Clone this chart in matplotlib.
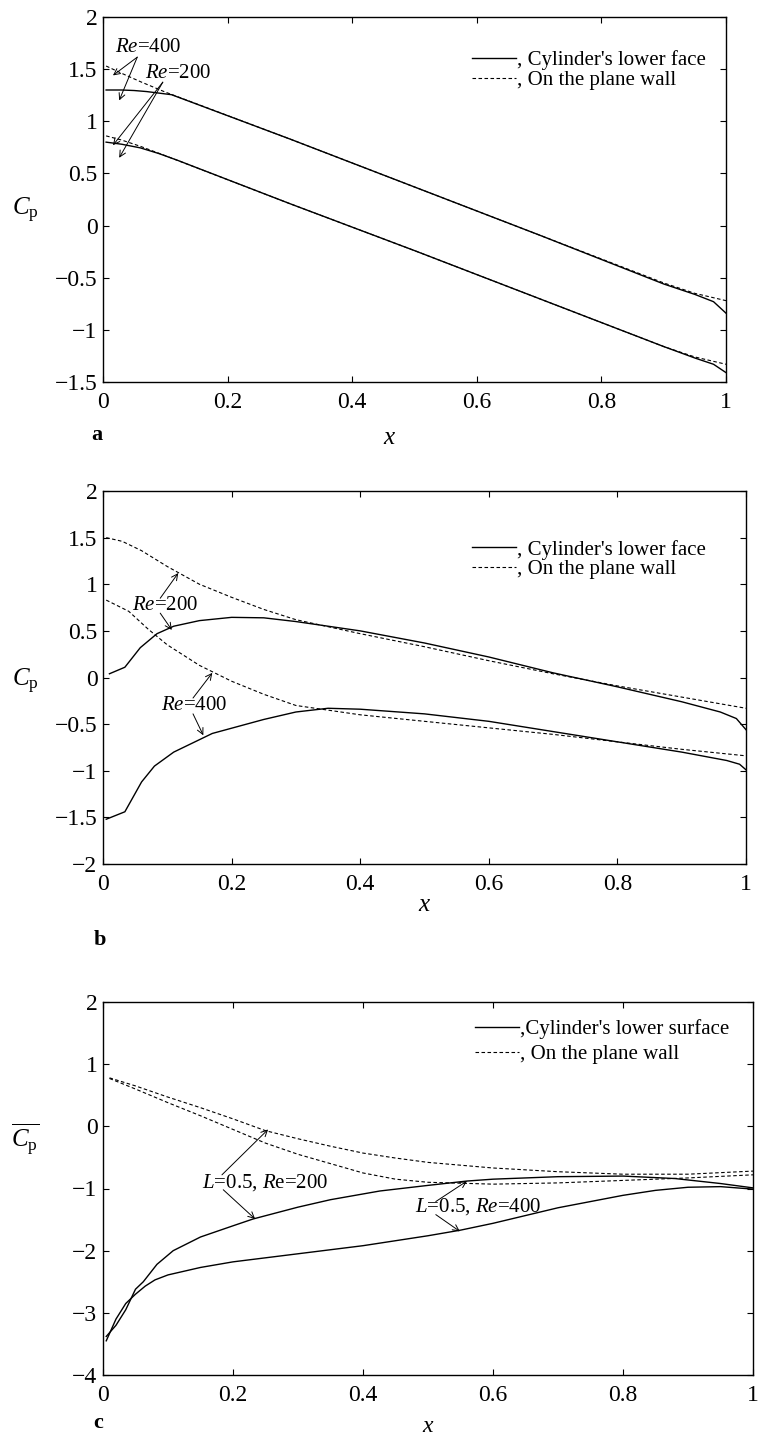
import matplotlib
matplotlib.use('Agg')
import matplotlib.pyplot as plt
from matplotlib.lines import Line2D
from matplotlib.ticker import FuncFormatter

plt.rcParams['font.family'] = ['Liberation Serif', 'DejaVu Serif']
plt.rcParams['mathtext.fontset'] = 'custom'
plt.rcParams['mathtext.rm'] = 'Liberation Serif'
plt.rcParams['mathtext.it'] = 'Liberation Serif:italic'
plt.rcParams['axes.unicode_minus'] = True

# ---- panel a : linear pressure distributions
a_x_up_wall = [0.005, 0.03, 0.06, 0.1, 0.3, 0.5, 0.7, 0.9, 0.95, 1.0]
a_y_up_wall = [1.53, 1.46, 1.38, 1.28, 0.83, 0.37, -0.09, -0.55, -0.65, -0.72]
a_x_up_cyl = [0.005, 0.03, 0.05, 0.07, 0.09, 0.11, 0.3, 0.5, 0.7, 0.9, 0.95, 0.98, 1.0]
a_y_up_cyl = [1.30, 1.30, 1.295, 1.285, 1.27, 1.255, 0.83, 0.37, -0.09, -0.56, -0.66, -0.73, -0.84]
a_x_lo_wall = [0.005, 0.03, 0.06, 0.1, 0.3, 0.5, 0.7, 0.9, 0.95, 1.0]
a_y_lo_wall = [0.86, 0.82, 0.76, 0.67, 0.21, -0.24, -0.70, -1.16, -1.26, -1.33]
a_x_lo_cyl = [0.005, 0.03, 0.06, 0.09, 0.12, 0.3, 0.5, 0.7, 0.9, 0.95, 0.98, 1.0]
a_y_lo_cyl = [0.80, 0.78, 0.745, 0.69, 0.625, 0.21, -0.24, -0.70, -1.16, -1.27, -1.33, -1.41]

# ---- panel b
b_x_up_wall = [0.005, 0.03, 0.06, 0.1, 0.15, 0.2, 0.25, 0.3, 0.4, 0.5, 0.6, 0.7, 0.8, 0.9, 1.0]
b_y_up_wall = [1.50, 1.46, 1.36, 1.19, 1.00, 0.86, 0.73, 0.62, 0.47, 0.33, 0.18, 0.04, -0.09, -0.21, -0.33]
b_x_up_cyl = [0.01, 0.034, 0.058, 0.084, 0.11, 0.15, 0.2, 0.25, 0.3, 0.4, 0.5, 0.6, 0.7, 0.8, 0.9, 0.96, 0.985, 1.0]
b_y_up_cyl = [0.04, 0.11, 0.32, 0.47, 0.55, 0.61, 0.645, 0.64, 0.60, 0.50, 0.37, 0.22, 0.05, -0.10, -0.26, -0.37, -0.44, -0.56]
b_x_lo_wall = [0.005, 0.04, 0.07, 0.1, 0.15, 0.2, 0.25, 0.3, 0.4, 0.5, 0.6, 0.7, 0.8, 0.9, 1.0]
b_y_lo_wall = [0.83, 0.71, 0.52, 0.35, 0.13, -0.04, -0.18, -0.30, -0.40, -0.47, -0.54, -0.61, -0.69, -0.77, -0.84]
b_x_lo_cyl = [0.005, 0.034, 0.06, 0.08, 0.11, 0.17, 0.25, 0.3, 0.35, 0.4, 0.5, 0.6, 0.7, 0.8, 0.9, 0.97, 0.99, 1.0]
b_y_lo_cyl = [-1.52, -1.44, -1.12, -0.95, -0.80, -0.60, -0.45, -0.37, -0.33, -0.34, -0.39, -0.47, -0.58, -0.69, -0.80, -0.89, -0.93, -0.99]

# ---- panel c : time averaged
c_x_up_wall = [0.01, 0.05, 0.1, 0.15, 0.2, 0.25, 0.3, 0.35, 0.4, 0.45, 0.5, 0.6, 0.7, 0.8, 0.9, 1.0]
c_y_up_wall = [0.78, 0.65, 0.47, 0.30, 0.12, -0.07, -0.20, -0.32, -0.43, -0.51, -0.58, -0.67, -0.73, -0.77, -0.77, -0.72]
c_x_lo_wall = [0.01, 0.05, 0.1, 0.15, 0.2, 0.25, 0.3, 0.35, 0.4, 0.45, 0.5, 0.6, 0.7, 0.8, 0.9, 1.0]
c_y_lo_wall = [0.77, 0.60, 0.38, 0.17, -0.05, -0.27, -0.45, -0.60, -0.75, -0.85, -0.90, -0.93, -0.91, -0.87, -0.83, -0.78]
c_x_cyl200 = [0.005, 0.02, 0.035, 0.05, 0.062, 0.083, 0.108, 0.15, 0.2, 0.231, 0.3, 0.35, 0.426, 0.5, 0.56, 0.6, 0.7, 0.8, 0.88, 0.95, 1.0]
c_y_cyl200 = [-3.38, -3.2, -2.95, -2.62, -2.5, -2.22, -2.0, -1.78, -1.6, -1.49, -1.3, -1.18, -1.04, -0.95, -0.88, -0.85, -0.81, -0.80, -0.84, -0.92, -0.99]
c_x_cyl400 = [0.005, 0.02, 0.035, 0.05, 0.065, 0.08, 0.1, 0.15, 0.2, 0.3, 0.4, 0.5, 0.55, 0.6, 0.7, 0.8, 0.85, 0.9, 0.95, 1.0]
c_y_cyl400 = [-3.45, -3.1, -2.85, -2.7, -2.57, -2.47, -2.39, -2.27, -2.18, -2.05, -1.92, -1.76, -1.67, -1.56, -1.31, -1.11, -1.03, -0.98, -0.97, -1.01]

x_ticks = [0, 0.2, 0.4, 0.6, 0.8, 1.0]
a_yticks = [-1.5, -1, -0.5, 0, 0.5, 1, 1.5, 2]
b_yticks = [-2, -1.5, -1, -0.5, 0, 0.5, 1, 1.5, 2]
c_yticks = [-4, -3, -2, -1, 0, 1, 2]

W, H = 761, 1440
fig = plt.figure(figsize=(W / 100, H / 100), dpi=100)


def box(l, t, r, b):
    return [l / W, 1 - b / H, (r - l) / W, (b - t) / H]


fmt = FuncFormatter(lambda v, p: ('%g' % v).replace('-', '\u2212'))
dash = (0, (3.2, 2.2))
FS = 15


def style(ax, yticks):
    ax.set_xlim(0, 1)
    ax.set_ylim(yticks[0], yticks[-1])
    ax.set_xticks(x_ticks)
    ax.set_yticks(yticks)
    ax.xaxis.set_major_formatter(fmt)
    ax.yaxis.set_major_formatter(fmt)
    ax.tick_params(direction='in', top=True, right=True, length=4.5, width=0.8, labelsize=17)
    ax.tick_params(axis='x', pad=7)
    ax.tick_params(axis='y', pad=4)
    for s in ax.spines.values():
        s.set_linewidth(1.0)


def arrow(ax, start, tip):
    ax.annotate('', xy=tip, xytext=start,
                arrowprops=dict(arrowstyle='->', lw=0.7, color='black',
                                shrinkA=0, shrinkB=0, mutation_scale=11))


def legend(ax, labels, x, y, spacing):
    h = [Line2D([], [], color='black', lw=1.0),
         Line2D([], [], color='black', lw=0.8, linestyle=dash)]
    ax.legend(h, labels, loc='upper left', bbox_to_anchor=(x, y), frameon=False,
              fontsize=FS, handlelength=2.1, handletextpad=0.05, borderpad=0,
              borderaxespad=0, labelspacing=spacing)


def ylab(ax, s, x, y):
    ax.set_ylabel(s, rotation=0, fontsize=18, va='center', ha='center')
    ax.yaxis.set_label_coords(x, y)


# ---------- a
ax = fig.add_axes(box(103, 17, 726, 382))
ax.plot(a_x_up_cyl, a_y_up_cyl, color='black', lw=1.0)
ax.plot(a_x_lo_cyl, a_y_lo_cyl, color='black', lw=1.0)
ax.plot(a_x_up_wall, a_y_up_wall, color='black', lw=0.8, linestyle=dash)
ax.plot(a_x_lo_wall, a_y_lo_wall, color='black', lw=0.8, linestyle=dash)
style(ax, a_yticks)
ylab(ax, r'$C_{\mathrm{p}}$', -0.125, 0.47)
legend(ax, [", Cylinder's lower face", ", On the plane wall"], 0.592, 0.908, 0.0)
ax.text(0.072, 1.71, r'$Re$=400', fontsize=FS, ha='center', va='center')
arrow(ax, (0.055, 1.615), (0.016, 1.44))
arrow(ax, (0.055, 1.615), (0.026, 1.20))
ax.text(0.12, 1.46, r'$Re$=200', fontsize=FS, ha='center', va='center')
arrow(ax, (0.096, 1.375), (0.016, 0.77))
arrow(ax, (0.096, 1.375), (0.026, 0.65))
fig.text(97 / W, 1 - 435 / H, 'a', fontsize=16, fontweight='bold', ha='center', va='center')
fig.text(390 / W, 1 - 438 / H, r'$x$', fontsize=18, ha='center', va='center')

# ---------- b
ax = fig.add_axes(box(103, 491, 746, 864))
ax.plot(b_x_up_cyl, b_y_up_cyl, color='black', lw=1.0)
ax.plot(b_x_lo_cyl, b_y_lo_cyl, color='black', lw=1.0)
ax.plot(b_x_up_wall, b_y_up_wall, color='black', lw=0.8, linestyle=dash)
ax.plot(b_x_lo_wall, b_y_lo_wall, color='black', lw=0.8, linestyle=dash)
style(ax, b_yticks)
ylab(ax, r'$C_{\mathrm{p}}$', -0.121, 0.49)
legend(ax, [", Cylinder's lower face", ", On the plane wall"], 0.574, 0.869, 0.0)
ax.text(0.096, 0.77, r'$Re$=200', fontsize=FS, ha='center', va='center')
arrow(ax, (0.089, 0.85), (0.117, 1.12))
arrow(ax, (0.089, 0.69), (0.107, 0.51))
ax.text(0.142, -0.30, r'$Re$=400', fontsize=FS, ha='center', va='center')
arrow(ax, (0.14, -0.22), (0.17, 0.05))
arrow(ax, (0.14, -0.39), (0.156, -0.62))
fig.text(100 / W, 1 - 940 / H, 'b', fontsize=16, fontweight='bold', ha='center', va='center')
fig.text(425 / W, 1 - 905 / H, r'$x$', fontsize=18, ha='center', va='center')

# ---------- c
ax = fig.add_axes(box(103, 1002, 753, 1375))
ax.plot(c_x_cyl200, c_y_cyl200, color='black', lw=1.0)
ax.plot(c_x_cyl400, c_y_cyl400, color='black', lw=1.0)
ax.plot(c_x_up_wall, c_y_up_wall, color='black', lw=0.8, linestyle=dash)
ax.plot(c_x_lo_wall, c_y_lo_wall, color='black', lw=0.8, linestyle=dash)
style(ax, c_yticks)
ylab(ax, r'$\overline{C_{\mathrm{p}}}$', -0.12, 0.63)
legend(ax, [",Cylinder's lower surface", ", On the plane wall"], 0.572, 0.954, 0.25)
ax.text(0.249, -0.90, r'$L$=0.5, $R$e=200', fontsize=FS, ha='center', va='center')
arrow(ax, (0.183, -0.78), (0.254, -0.05))
arrow(ax, (0.185, -1.02), (0.234, -1.49))
ax.text(0.578, -1.29, r'$L$=0.5, $Re$=400', fontsize=FS, ha='center', va='center')
arrow(ax, (0.512, -1.21), (0.56, -0.88))
arrow(ax, (0.512, -1.42), (0.549, -1.69))
fig.text(98 / W, 1 - 1423 / H, 'c', fontsize=16, fontweight='bold', ha='center', va='center')
fig.text(428 / W, 1 - 1427 / H, r'$x$', fontsize=17, ha='center', va='center')

fig.savefig('out.png', dpi=100)
